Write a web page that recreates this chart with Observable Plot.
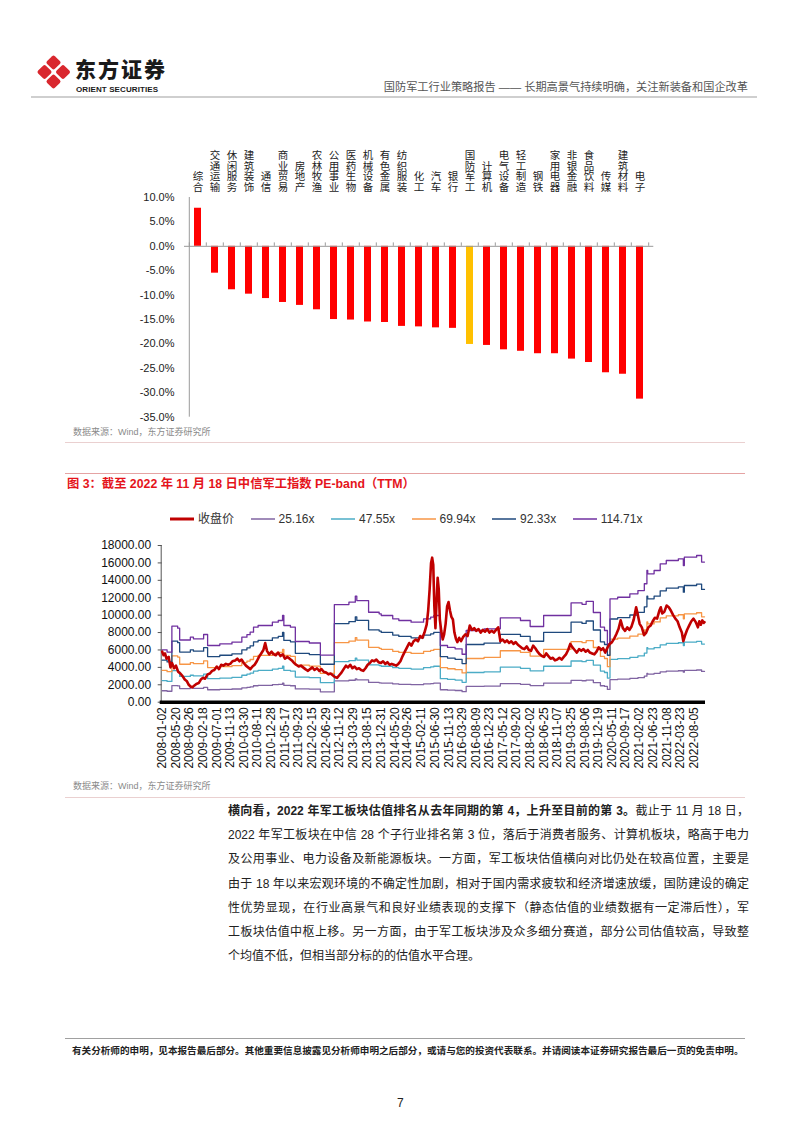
<!DOCTYPE html>
<html><head><meta charset="utf-8">
<script src="https://cdn.jsdelivr.net/npm/d3@7"></script>
<script src="https://cdn.jsdelivr.net/npm/@observablehq/plot@0.6"></script>
<style>
body{margin:0;background:#fff;}
#page{position:relative;width:802px;height:1133px;overflow:hidden;background:#fff;font-family:"Liberation Sans","Noto Sans CJK SC",sans-serif;color:#222;}
.abs{position:absolute;}
.rule{position:absolute;height:1px;}
.src{position:absolute;left:73px;font-size:9px;color:#8a8a8a;line-height:12px;white-space:nowrap;}
#para{position:absolute;left:228px;top:799px;width:521px;font-size:12px;line-height:24.2px;color:#222;}
#para div{text-align:justify;text-align-last:justify;height:24.2px;overflow:visible;}
#para div.last{text-align:left;text-align-last:left;}
#legend{position:absolute;left:170px;top:510px;display:flex;gap:16.5px;align-items:center;font-size:12px;color:#333;line-height:18px;}
#legend .it{display:flex;align-items:center;}
#legend svg{margin-right:4px;}
</style></head>
<body><div id="page">
  <svg class="abs" style="left:36px;top:55px" width="36" height="36" viewBox="0 0 36 36">
    <g fill="#D9272E">
      <rect x="12" y="2" width="11" height="11" rx="2" transform="rotate(45 17.5 7.5)"/>
      <rect x="3" y="11.5" width="11" height="11" rx="2" transform="rotate(45 8.5 17)"/>
      <rect x="21.5" y="11.5" width="11" height="11" rx="2" transform="rotate(45 27 17)"/>
      <rect x="12" y="21" width="11" height="11" rx="2" transform="rotate(45 17.5 26.5)"/>
    </g>
  </svg>
  <div class="abs" style="left:75px;top:57px;font-size:21px;font-weight:900;line-height:23px;letter-spacing:2px;color:#1a1a1a;font-family:'Noto Sans CJK SC',sans-serif;">东方证券</div>
  <div class="abs" style="left:76px;top:84.5px;font-size:8px;font-weight:bold;line-height:9px;color:#1a1a1a;letter-spacing:0.1px;">ORIENT SECURITIES</div>
  <div class="abs" style="right:54px;top:80px;font-size:11.2px;line-height:14px;color:#555;white-space:nowrap;">国防军工行业策略报告 —— 长期高景气持续明确，关注新装备和国企改革</div>
  <div class="rule" style="left:31px;top:96px;width:726px;height:2px;background:#cfcfcf;"></div>

  <div id="bar" class="abs" style="left:0;top:110px;"></div>
  <div class="src" style="top:426px;">数据来源：Wind，东方证券研究所</div>
  <div class="rule" style="left:65px;top:442px;width:680px;background:#ead0d0;"></div>

  <div class="rule" style="left:65px;top:473px;width:680px;background:#e5a3a3;"></div>
  <div class="abs" style="left:67px;top:476px;font-size:12.3px;font-weight:bold;line-height:16px;color:#E5141B;white-space:nowrap;">图 3：截至 2022 年 11 月 18 日中信军工指数 PE-band（TTM）</div>

  <div id="legend"></div>
  <div id="line" class="abs" style="left:0;top:535px;"></div>
  <div class="src" style="top:780px;">数据来源：Wind，东方证券研究所</div>
  <div class="rule" style="left:65px;top:797px;width:680px;background:#ead0d0;"></div>

  <div id="para">
    <div><b>横向看，2022 年军工板块估值排名从去年同期的第 4，上升至目前的第 3。</b>截止于 11 月 18 日，</div>
    <div>2022 年军工板块在中信 28 个子行业排名第 3 位，落后于消费者服务、计算机板块，略高于电力</div>
    <div>及公用事业、电力设备及新能源板块。一方面，军工板块估值横向对比仍处在较高位置，主要是</div>
    <div>由于 18 年以来宏观环境的不确定性加剧，相对于国内需求疲软和经济增速放缓，国防建设的确定</div>
    <div>性优势显现，在行业高景气和良好业绩表现的支撑下（静态估值的业绩数据有一定滞后性），军</div>
    <div>工板块估值中枢上移。另一方面，由于军工板块涉及众多细分赛道，部分公司估值较高，导致整</div>
    <div class="last">个均值不低，但相当部分标的的估值水平合理。</div>
  </div>

  <div class="rule" style="left:65px;top:1038px;width:680px;background:#a0a0a0;"></div>
  <div class="abs" style="left:72px;top:1044px;font-size:9.6px;font-weight:bold;line-height:14px;color:#222;white-space:nowrap;">有关分析师的申明，见本报告最后部分。其他重要信息披露见分析师申明之后部分，或请与您的投资代表联系。并请阅读本证券研究报告最后一页的免责申明。</div>
  <div class="abs" style="left:397px;top:1095px;font-size:12px;line-height:16px;color:#222;">7</div>
</div>
<script>
// ---------- Bar chart data ----------
const industries = ["综合","交通运输","休闲服务","建筑装饰","通信","商业贸易","房地产","农林牧渔","公用事业","医药生物","机械设备","有色金属","纺织服装","化工","汽车","银行","国防军工","计算机","电气设备","轻工制造","钢铁","家用电器","非银金融","食品饮料","传媒","建筑材料","电子"];
const changePct = [7.8,-5.5,-8.9,-9.8,-10.7,-11.5,-12.1,-13.0,-15.0,-15.1,-15.5,-15.6,-16.4,-16.5,-16.7,-16.8,-20.1,-20.3,-21.2,-21.5,-22.0,-22.0,-23.1,-23.8,-25.9,-26.2,-31.3];
const highlightIndustry = "国防军工";
const barTicks = [10,5,0,-5,-10,-15,-20,-25,-30,-35];

// ---------- PE-band data ----------
const seriesNames = ["收盘价","25.16x","47.55x","69.94x","92.33x","114.71x"];
const peMultiples = [25.16,47.55,69.94,92.33,114.71];
const seriesColors = ["#C00000","#8064A2","#4BACC6","#F79646","#1F497D","#7030A0"];
const lineTicks = [0,2000,4000,6000,8000,10000,12000,14000,16000,18000];
const dateTicks = ["2008-01-02","2008-05-20","2008-09-26","2009-02-18","2009-07-01","2009-11-13","2010-03-30","2010-08-11","2010-12-28","2011-05-17","2011-09-23","2012-02-15","2012-06-29","2012-11-12","2013-03-29","2013-08-15","2013-12-31","2014-05-20","2014-09-26","2015-02-11","2015-06-30","2015-11-13","2016-03-29","2016-08-09","2016-12-23","2017-05-12","2017-09-20","2018-02-02","2018-06-25","2018-11-07","2019-03-25","2019-08-06","2019-12-19","2020-05-11","2020-09-17","2021-02-02","2021-06-23","2021-11-08","2022-03-23","2022-08-05"];
const dateStart = "2008-01-02", dateEnd = "2022-11-18";

// index close price (sampled)
const closePrice = [
["2008-01-02",5800],["2008-01-16",5400],["2008-01-30",5600],["2008-02-14",5000],["2008-03-07",5200],["2008-03-25",4000],["2008-04-09",4500],["2008-05-01",3900],["2008-05-19",4200],["2008-06-10",3500],["2008-07-02",3300],["2008-07-24",3000],["2008-08-15",2600],["2008-09-06",2400],["2008-09-24",2000],["2008-10-12",1800],["2008-10-30",1700],["2008-11-17",1900],["2008-12-09",2100],
["2009-01-02",2200],["2009-01-23",2600],["2009-02-14",2800],["2009-03-07",2700],["2009-04-01",3200],["2009-04-24",3300],["2009-05-16",3600],["2009-06-07",3700],["2009-07-02",4100],["2009-07-24",3800],["2009-08-15",4300],["2009-09-06",4200],["2009-10-01",4400],["2009-10-23",4300],["2009-11-14",4400],["2009-12-06",4700],
["2010-01-02",4800],["2010-01-23",5000],["2010-02-14",4700],["2010-03-07",4900],["2010-03-29",4500],["2010-04-20",4200],["2010-05-12",4000],["2010-06-03",3800],["2010-06-25",4100],["2010-07-16",4300],["2010-08-07",4700],["2010-08-29",5200],["2010-09-20",5600],["2010-10-12",6000],["2010-10-30",6800],["2010-11-17",5900],["2010-12-09",5500],
["2011-01-02",5800],["2011-01-23",5500],["2011-02-14",5400],["2011-03-07",5700],["2011-04-01",5300],["2011-04-24",5500],["2011-05-16",5000],["2011-06-07",5200],["2011-07-02",5000],["2011-07-24",4800],["2011-08-15",4500],["2011-09-06",4300],["2011-10-01",4100],["2011-10-23",4200],["2011-11-14",4000],["2011-12-06",3800],
["2012-01-02",3600],["2012-01-23",3800],["2012-02-14",4000],["2012-03-07",3700],["2012-04-01",3900],["2012-04-24",3600],["2012-05-16",3800],["2012-06-07",3500],["2012-07-02",3400],["2012-07-24",3200],["2012-08-15",3300],["2012-09-06",3100],["2012-09-27",2900],["2012-10-19",2800],["2012-11-10",3100],["2012-12-02",3400],["2012-12-24",3800],
["2013-01-16",4200],["2013-02-06",4000],["2013-02-28",4300],["2013-03-22",3900],["2013-04-13",4100],["2013-05-05",3800],["2013-05-27",3900],["2013-06-17",3700],["2013-07-09",3600],["2013-07-31",3900],["2013-08-22",4300],["2013-09-13",4500],["2013-10-05",4800],["2013-10-27",4700],["2013-11-17",4900],["2013-12-09",4600],
["2014-01-02",4500],["2014-01-23",4700],["2014-02-14",4400],["2014-03-07",4600],["2014-03-29",4300],["2014-04-20",4400],["2014-05-12",4300],["2014-06-03",4200],["2014-06-25",4400],["2014-07-16",4700],["2014-08-07",5300],["2014-08-29",5800],["2014-09-20",6300],["2014-10-12",6800],["2014-11-03",6500],["2014-11-25",7000],["2014-12-17",7200],
["2015-01-08",7000],["2015-01-30",7600],["2015-02-21",7400],["2015-03-14",8000],["2015-04-05",8900],["2015-04-20",10500],["2015-05-05",13000],["2015-05-19",16000],["2015-05-30",16600],["2015-06-10",15800],["2015-06-21",11000],["2015-07-02",8500],["2015-07-13",11500],["2015-07-24",14300],["2015-08-04",13000],["2015-08-15",9500],["2015-08-29",8200],["2015-09-13",7200],["2015-09-27",7800],["2015-10-12",9000],["2015-10-27",11000],["2015-11-10",11500],["2015-11-25",10500],["2015-12-09",9800],["2015-12-24",9500],
["2016-01-08",8000],["2016-01-23",7300],["2016-02-06",6900],["2016-02-25",7400],["2016-03-14",7000],["2016-04-05",7500],["2016-04-27",7800],["2016-05-19",7600],["2016-06-10",8800],["2016-07-02",8300],["2016-07-24",8500],["2016-08-15",8200],["2016-09-06",8400],["2016-09-27",8000],["2016-10-19",8300],["2016-11-10",8100],["2016-12-02",8400],["2016-12-24",8000],
["2017-01-16",8200],["2017-02-06",8000],["2017-02-28",8300],["2017-03-22",8600],["2017-04-13",7000],["2017-05-05",7200],["2017-05-27",6900],["2017-06-17",7100],["2017-07-09",6800],["2017-07-31",7000],["2017-08-22",6700],["2017-09-13",6900],["2017-10-05",6600],["2017-10-27",6400],["2017-11-17",6200],["2017-12-09",6100],
["2018-01-02",6400],["2018-01-23",6000],["2018-02-14",5900],["2018-03-07",6500],["2018-03-29",6200],["2018-04-20",5800],["2018-05-12",5500],["2018-06-03",5300],["2018-06-25",5200],["2018-07-16",5600],["2018-08-07",5300],["2018-08-29",5000],["2018-09-20",5100],["2018-10-12",4800],["2018-11-03",4900],["2018-11-25",5100],["2018-12-17",4900],
["2019-01-08",5200],["2019-01-30",5500],["2019-02-21",6000],["2019-03-14",6700],["2019-04-05",6300],["2019-04-27",6000],["2019-05-19",5700],["2019-06-10",6100],["2019-07-02",5900],["2019-07-24",6100],["2019-08-15",5800],["2019-09-06",6000],["2019-09-27",5700],["2019-10-19",5600],["2019-11-10",5500],["2019-12-02",5800],["2019-12-24",6300],
["2020-01-16",6000],["2020-02-06",6200],["2020-02-28",5700],["2020-03-22",6300],["2020-04-13",6700],["2020-05-05",6900],["2020-05-27",7300],["2020-06-17",7800],["2020-07-09",8400],["2020-07-31",9400],["2020-08-22",8500],["2020-09-13",8200],["2020-10-05",8600],["2020-10-27",8300],["2020-11-17",8700],["2020-12-09",9500],
["2021-01-02",10900],["2021-01-16",10200],["2021-02-06",9000],["2021-02-28",8600],["2021-03-22",7700],["2021-04-13",8000],["2021-05-05",8600],["2021-05-27",8800],["2021-06-17",9300],["2021-07-09",9700],["2021-07-31",9600],["2021-08-22",10500],["2021-09-06",10900],["2021-09-20",10200],["2021-10-12",10400],["2021-11-03",11100],["2021-11-25",10900],["2021-12-17",10500],
["2022-01-08",10000],["2022-01-30",9600],["2022-02-21",9300],["2022-03-14",8600],["2022-04-05",8000],["2022-04-20",7000],["2022-05-05",7600],["2022-05-27",8300],["2022-06-17",8800],["2022-07-09",9300],["2022-07-31",9600],["2022-08-22",9200],["2022-09-13",8600],["2022-09-27",9300],["2022-10-12",8900],["2022-10-27",9400],["2022-11-10",9100],["2022-11-18",9200]
];

// trailing-twelve-month EPS of the index (index points); PE-band line = EPS × PE multiple
const ttmEps = [
["2008-01-02",52.3],["2008-02-20",50.1],["2008-04-08",76.1],["2008-06-05",74.1],["2008-06-25",62.3],["2008-10-10",65.1],["2008-11-10",63.5],["2009-02-20",67.8],["2009-04-01",56.8],["2009-08-01",58.4],["2009-12-01",60.2],
["2010-03-10",65.1],["2010-04-30",67.6],["2010-06-01",70.1],["2010-07-05",75.1],["2010-08-20",76.8],["2011-01-10",80.1],["2011-03-10",81.8],["2011-04-22",86.8],["2011-05-05",76.8],["2011-07-10",75.1],["2011-08-28",60.8],
["2012-01-15",59.3],["2012-05-05",47.2],["2012-09-22",97.8],["2013-02-15",100.2],["2013-04-20",106.2],["2013-05-05",101.8],["2013-08-31",90.1],["2013-12-15",88.5],["2014-01-05",86.8],["2014-04-30",83.5],["2014-06-30",81.8],["2014-10-31",80.1],
["2015-03-05",83.5],["2015-05-15",85.1],["2015-06-15",86.8],["2015-08-20",56.8],["2015-10-31",54.9],["2016-01-15",53.4],["2016-03-25",48.0],["2016-05-05",71.8],["2016-10-31",73.5],["2017-04-12",84.5],["2017-10-31",81.8],
["2018-02-05",75.8],["2018-06-20",86.8],["2019-03-22",99.5],["2019-07-10",98.0],["2019-08-20",101.0],["2019-10-31",89.8],["2020-01-10",75.1],["2020-02-20",71.8],["2020-03-20",58.4],["2020-04-15",103.5],["2020-07-01",105.1],["2020-10-31",108.5],
["2021-01-20",111.8],["2021-03-25",118.6],["2021-04-20",131.9],["2021-04-28",128.6],["2021-07-01",131.9],["2021-08-31",138.6],["2021-10-31",141.9],["2022-03-01",143.6],["2022-04-20",136.9],["2022-04-30",145.2],["2022-08-31",146.9],["2022-10-20",140.3],["2022-11-18",140.3]
];

const FONT = '"Liberation Sans","Noto Sans CJK SC",sans-serif';

// ---------- Bar chart ----------
const barData = industries.map((name, i) => ({name, value: changePct[i], color: name === highlightIndustry ? "#FFC000" : "#FF0000"}));
const barLeft = 184, barRight = 653.3;
const halfStep = (barRight - barLeft) / industries.length / 2;
const barChart = Plot.plot({
  width: 802, height: 312,
  marginLeft: barLeft, marginRight: 802 - barRight, marginTop: 87, marginBottom: 5.3,
  style: {fontFamily: FONT, fontSize: "11px", color: "#222", background: "transparent", overflow: "visible"},
  x: {domain: industries, paddingInner: 0.6, paddingOuter: 0.3, axis: null},
  y: {domain: [-35, 10], axis: null},
  color: {type: "identity"},
  marks: [
    Plot.axisY({ticks: barTicks, tickSize: 0, tickPadding: 10, tickFormat: d => d.toFixed(1) + "%", fontSize: 11, label: null}),
    Plot.axisX({anchor: "top", tickSize: 0, tickPadding: 7, tickFormat: d => [...d].join("\n"), lineHeight: 1, fontSize: 10.5, label: null}),
    Plot.barY(barData, {x: "name", y: "value", fill: "color"}),
    Plot.ruleY([0], {stroke: "#9a9a9a"}),
    Plot.ruleX(industries, {x: d => d, y1: 0, y2: 0.7, stroke: "#9a9a9a", dx: -halfStep}),
    Plot.ruleX(industries.slice(-1), {x: d => d, y1: 0, y2: 0.7, stroke: "#9a9a9a", dx: halfStep}),
    Plot.ruleX(industries.slice(0, 1), {x: d => d, y1: -35, y2: 10, stroke: "#9a9a9a", dx: -halfStep})
  ]
});
document.getElementById("bar").append(barChart);

// ---------- PE-band chart ----------
const parse = d3.utcParse("%Y-%m-%d");
const closeData = closePrice.map(([d, v]) => ({date: parse(d), value: v}));
const bandData = peMultiples.flatMap((m, i) => ttmEps.map(([d, e]) => ({date: parse(d), value: e * m, band: seriesNames[i + 1]})));
const lineChart = Plot.plot({
  width: 802, height: 245,
  marginLeft: 161.7, marginRight: 98, marginTop: 10, marginBottom: 78.3,
  style: {fontFamily: FONT, fontSize: "12px", color: "#111", background: "transparent", overflow: "visible"},
  x: {type: "utc", domain: [parse(dateStart), parse(dateEnd)], axis: null},
  y: {domain: [0, 18000], axis: null},
  color: {domain: seriesNames, range: seriesColors},
  marks: [
    Plot.axisY({ticks: lineTicks, tickFormat: d => d.toFixed(2), tickSize: 4, tickPadding: 7, fontSize: 12, label: null, stroke: "#555"}),
    Plot.ruleX([parse(dateStart)], {y1: 0, y2: 18000, stroke: "#555", dx: -1}),
    Plot.line(bandData, {x: "date", y: "value", z: "band", stroke: "band", curve: "step-after", strokeWidth: 1.3}),
    Plot.line(closeData, {x: "date", y: "value", stroke: seriesColors[0], strokeWidth: 2.6}),
    Plot.ruleY([0], {stroke: "#000", strokeWidth: 3.5, insetLeft: -2, insetRight: -1}),
    Plot.axisX({ticks: dateTicks.map(parse), tickFormat: d3.utcFormat("%Y-%m-%d"), tickRotate: -90, tickSize: 0, tickPadding: 5, fontSize: 12, label: null})
  ]
});
document.getElementById("line").append(lineChart);

// ---------- Legend ----------
const legend = document.getElementById("legend");
seriesNames.forEach((name, i) => {
  const it = document.createElement("div");
  it.className = "it";
  const w = i === 0 ? 3 : 1.5;
  it.innerHTML = `<svg width="24" height="10"><line x1="0" x2="24" y1="5" y2="5" stroke="${seriesColors[i]}" stroke-width="${w}"/></svg><span>${name}</span>`;
  legend.append(it);
});
</script>
</body></html>
